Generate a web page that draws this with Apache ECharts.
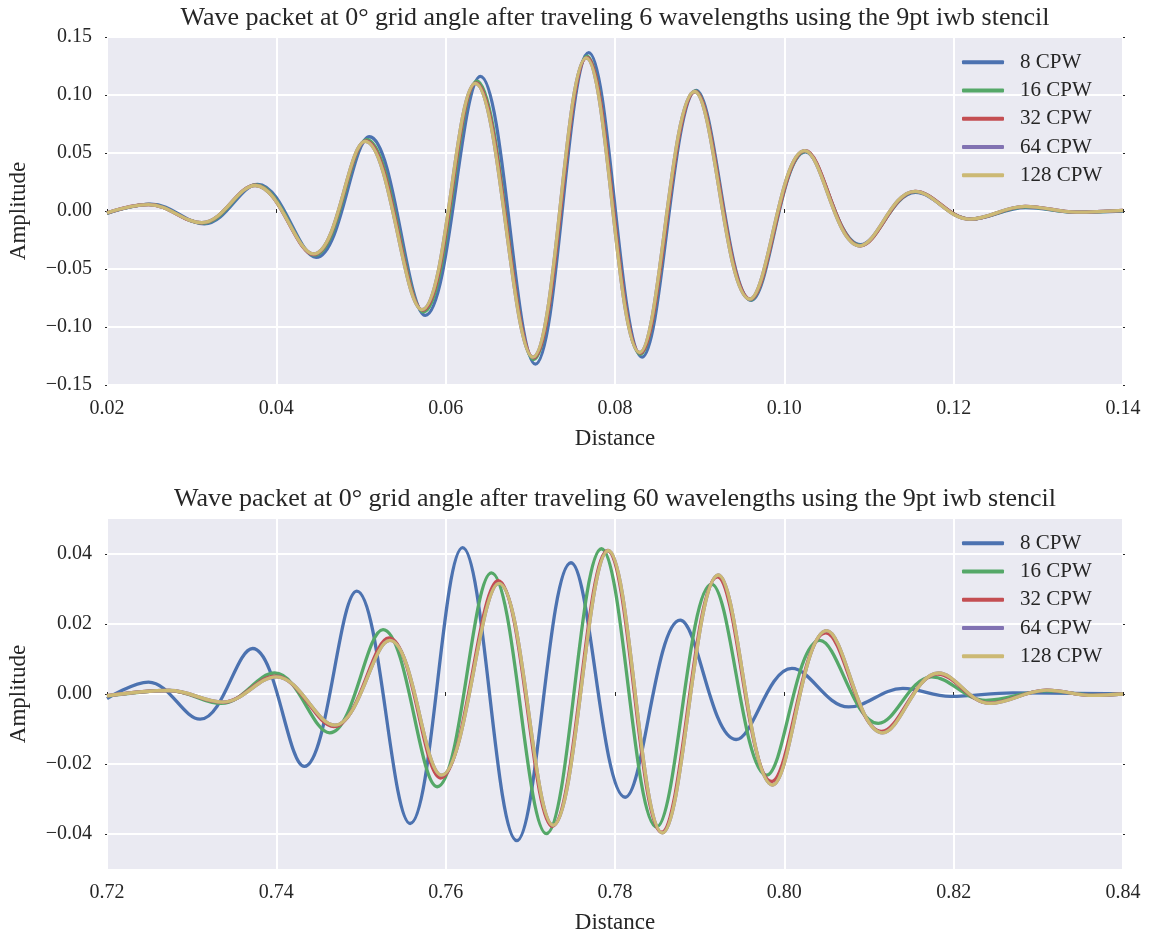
<!DOCTYPE html>
<html>
<head>
<meta charset="utf-8">
<script src="https://cdn.jsdelivr.net/npm/echarts@6/dist/echarts.min.js"></script>
<style>
  html, body { margin: 0; padding: 0; background: #fff; }
  #chart { width: 1151px; height: 932px; }
</style>
</head>
<body>
<div id="chart"></div>
<script>
// names + colours (seaborn deep)
const names = ['8 CPW', '16 CPW', '32 CPW', '64 CPW', '128 CPW'];
const colors = ['#4C72B0', '#55A868', '#C44E52', '#8172B2', '#CCB974'];

// ---- top panel: after 6 wavelengths
// [distance, amplitude] at the crests / troughs
const top8 = [[0.020,-0.002],[0.0252,0.006],[0.0315,-0.011],[0.0378,0.023],[0.0447,-0.040],[0.0510,0.064],
  [0.0576,-0.090],[0.0641,0.116],[0.0706,-0.132],[0.0769,0.1365],[0.0832,-0.126],[0.0896,0.104],
  [0.0961,-0.077],[0.1025,0.051],[0.1090,-0.029],[0.1155,0.016],[0.1220,-0.007],[0.1285,0.003],
  [0.1345,-0.001],[0.140,0]];
const top16 = [[0.020,-0.0018],[0.0250,0.0057],[0.0313,-0.0105],[0.0376,0.0225],[0.0445,-0.038],[0.0507,0.0615],
  [0.0574,-0.087],[0.0637,0.112],[0.0704,-0.128],[0.0767,0.1335],[0.0830,-0.1235],[0.0895,0.1035],
  [0.0960,-0.0765],[0.1025,0.0515],[0.1090,-0.0298],[0.1155,0.0167],[0.1220,-0.007],[0.1285,0.0035],
  [0.1345,-0.001],[0.140,0.0003]];
const top32 = [[0.020,-0.0016],[0.0249,0.0056],[0.0312,-0.0102],[0.0375,0.0222],[0.0444,-0.0375],[0.0506,0.0605],
  [0.0573,-0.0855],[0.0636,0.1105],[0.0704,-0.1265],[0.0767,0.1325],[0.0830,-0.1225],[0.0895,0.103],
  [0.0960,-0.076],[0.1025,0.052],[0.1090,-0.030],[0.1155,0.017],[0.1220,-0.007],[0.1285,0.004],
  [0.1345,-0.001],[0.140,0.0005]];
// 64 and 128 CPW sit on top of each other
const top128 = [[0.020,-0.0015],[0.0249,0.0055],[0.0312,-0.010],[0.0375,0.022],[0.0444,-0.037],[0.0505,0.060],
  [0.0572,-0.085],[0.0635,0.110],[0.0703,-0.126],[0.0766,0.132],[0.0829,-0.122],[0.0894,0.103],
  [0.0959,-0.076],[0.1024,0.052],[0.1089,-0.030],[0.1154,0.017],[0.1219,-0.007],[0.1284,0.004],
  [0.1345,-0.001],[0.140,0.0005]];
const top64 = top128;

// ---- bottom panel: after 60 wavelengths
const bot8 = [[0.720,-0.0013],[0.7249,0.0034],[0.7310,-0.0072],[0.7372,0.013],[0.7433,-0.0207],[0.7495,0.0294],
  [0.7558,-0.037],[0.7620,0.0418],[0.7684,-0.0419],[0.7748,0.0375],[0.7812,-0.0295],[0.7877,0.0211],
  [0.7943,-0.013],[0.8009,0.0073],[0.8076,-0.0037],[0.8140,0.0016],[0.8196,-0.0007],[0.8270,0.0003],
  [0.840,0]];
const bot16 = [[0.720,-0.0006],[0.7274,0.001],[0.7335,-0.0027],[0.7398,0.006],[0.7463,-0.0111],[0.7526,0.0184],
  [0.7590,-0.0265],[0.7654,0.0346],[0.7719,-0.0399],[0.7784,0.0415],[0.7849,-0.038],[0.7914,0.0314],
  [0.7979,-0.0232],[0.8042,0.0153],[0.8111,-0.0084],[0.8174,0.0049],[0.8238,-0.0018],[0.8310,0.0009],
  [0.8365,-0.0003],[0.840,0]];
const bot32 = [[0.720,-0.0005],[0.7273,0.001],[0.7336,-0.0024],[0.7399,0.0051],[0.7468,-0.0093],[0.7533,0.016],
  [0.7594,-0.024],[0.7662,0.0324],[0.7726,-0.0378],[0.7791,0.041],[0.7855,-0.0395],[0.7921,0.0335],
  [0.7985,-0.025],[0.8049,0.0175],[0.8115,-0.0107],[0.8181,0.0057],[0.8242,-0.0026],[0.8310,0.0011],
  [0.8365,-0.0004],[0.840,0]];
const bot128 = [[0.720,-0.0005],[0.7274,0.001],[0.7337,-0.0023],[0.7400,0.0049],[0.7469,-0.0089],[0.7534,0.0153],
  [0.7595,-0.0232],[0.7663,0.0316],[0.7727,-0.0375],[0.7792,0.041],[0.7856,-0.0397],[0.7922,0.034],
  [0.7986,-0.026],[0.8050,0.0181],[0.8116,-0.0111],[0.8182,0.006],[0.8243,-0.0027],[0.8310,0.0011],
  [0.8365,-0.0004],[0.840,0]];
const bot64 = bot128;

const topSeries = [top8, top16, top32, top64, top128];
const botSeries = [bot8, bot16, bot32, bot64, bot128];

// bottom panel only labels every other hundredth
const botYTicks = [-0.04, -0.02, 0.00, 0.02, 0.04];

const titles = [
  'Wave packet at 0\u00b0 grid angle after traveling 6 wavelengths using the 9pt iwb stencil',
  'Wave packet at 0\u00b0 grid angle after traveling 60 wavelengths using the 9pt iwb stencil'
];

const font = 'Liberation Serif';
const ink = '#262626';

function fmt(v) {
  let s = Math.abs(v) < 1e-9 ? '0.00' : v.toFixed(2);
  return s.replace('-', '\u2212');
}

var dom = document.getElementById('chart');
var myChart = echarts.init(dom, null, { renderer: 'canvas' });

const gridTops = [37, 519];
const gridHeights = [348, 350];

function mainX(gi, min, max) {
  return {
    gridIndex: gi, type: 'value', min: min, max: max, interval: 0.02,
    name: 'Distance', nameLocation: 'middle', nameGap: 42, nameMoveOverlap: false,
    nameTextStyle: { fontFamily: font, fontSize: 23, color: ink },
    axisLine: { show: false },
    axisTick: { show: true, length: 2, lineStyle: { color: ink } },
    axisLabel: { margin: 14, fontFamily: font, fontSize: 20, color: ink, formatter: fmt },
    splitLine: { show: true, lineStyle: { color: '#ffffff', width: 2 } }
  };
}
function mirrorX(gi, min, max) {
  return {
    gridIndex: gi, type: 'value', position: 'top', min: min, max: max, interval: 0.02,
    axisLine: { show: false }, axisLabel: { show: false }, splitLine: { show: false },
    axisTick: { show: true, length: 2, lineStyle: { color: ink } }
  };
}
function mainY(gi, min, max, extra) {
  return Object.assign({
    gridIndex: gi, type: 'value', min: min, max: max,
    name: 'Amplitude', nameLocation: 'middle', nameGap: 77, nameMoveOverlap: false,
    nameTextStyle: { fontFamily: font, fontSize: 23, color: ink },
    axisLine: { show: false },
    axisTick: { show: true, length: 2, lineStyle: { color: ink } },
    axisLabel: { margin: 15, fontFamily: font, fontSize: 20, color: ink, formatter: fmt },
    splitLine: { show: true, lineStyle: { color: '#ffffff', width: 2 } }
  }, extra);
}
function mirrorY(gi, min, max, extra) {
  return Object.assign({
    gridIndex: gi, type: 'value', position: 'right', min: min, max: max,
    axisLine: { show: false }, axisLabel: { show: false }, splitLine: { show: false },
    axisTick: { show: true, length: 2, lineStyle: { color: ink } }
  }, extra);
}

const series = [];
[topSeries, botSeries].forEach(function (group, g) {
  group.forEach(function (d, i) {
    series.push({
      name: names[i],
      type: 'line',
      xAxisIndex: g * 2,
      yAxisIndex: g * 2,
      data: d,
      smooth: 0.38,
      showSymbol: false,
      symbol: 'none',
      itemStyle: { color: colors[i] },
      lineStyle: { color: colors[i], width: 3.3 },
      z: 2 + i
    });
  });
});

const legendBase = {
  orient: 'vertical', left: 962, padding: 0, itemGap: 0,
  icon: 'roundRect', itemWidth: 42, itemHeight: 4,
  data: names,
  textStyle: { fontFamily: font, fontSize: 21, color: ink, lineHeight: 28.3, padding: [0, 0, 0, 11] }
};

var option = {
  animation: false,
  backgroundColor: '#ffffff',
  title: titles.map(function (t, i) {
    return {
      text: t, left: 615, top: [5, 486][i], textAlign: 'center', padding: 0,
      textStyle: { fontFamily: font, fontSize: 26, fontWeight: 'normal', color: ink }
    };
  }),
  legend: [
    Object.assign({}, legendBase, { top: 48 }),
    Object.assign({}, legendBase, { top: 529 })
  ],
  grid: gridTops.map(function (t, i) {
    return {
      left: 107, right: 28, top: t, height: gridHeights[i],
      show: true, backgroundColor: '#EAEAF2', borderWidth: 0,
      outerBoundsMode: 'none'
    };
  }),
  xAxis: [mainX(0, 0.02, 0.14), mirrorX(0, 0.02, 0.14), mainX(1, 0.72, 0.84), mirrorX(1, 0.72, 0.84)],
  yAxis: [
    mainY(0, -0.15, 0.15, { interval: 0.05 }),
    mirrorY(0, -0.15, 0.15, { interval: 0.05 }),
    mainY(1, -0.05, 0.05, {
      axisTick: { show: true, length: 2, lineStyle: { color: ink }, customValues: botYTicks },
      axisLabel: { margin: 15, fontFamily: font, fontSize: 20, color: ink, formatter: fmt, customValues: botYTicks }
    }),
    mirrorY(1, -0.05, 0.05, {
      axisTick: { show: true, length: 2, lineStyle: { color: ink }, customValues: botYTicks }
    })
  ],
  series: series
};

myChart.setOption(option);
window.addEventListener('resize', myChart.resize);
</script>
</body>
</html>
